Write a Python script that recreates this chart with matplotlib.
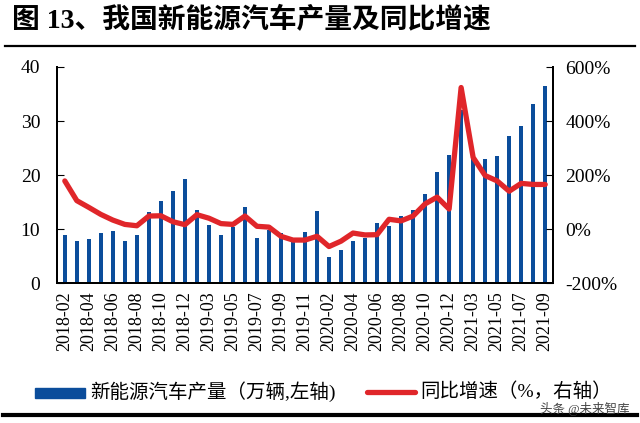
import numpy as np
import matplotlib
matplotlib.use("Agg")
import matplotlib.pyplot as plt
from matplotlib.lines import Line2D
from matplotlib.patches import Rectangle

plt.rcParams['font.family'] = ['Liberation Serif', 'Noto Sans CJK SC']

# months (Jan merged into Feb in 2019 and 2021, Jan missing in 2020)
months = (["2018-%02d" % m for m in range(2, 13)] +
          ["2019-%02d" % m for m in range(2, 13)] +
          ["2020-%02d" % m for m in range(2, 13)] +
          ["2021-%02d" % m for m in range(2, 10)])

# production, 10k vehicles (left axis)
production = [8.8, 7.7, 8.1, 9.3, 9.6, 7.8, 8.9, 13.1, 15.1, 17.1, 19.3,
              13.6, 10.8, 8.8, 10.3, 14.1, 8.3, 9.9, 9.3, 7.7, 9.4, 13.4,
              4.9, 6.2, 7.7, 8.3, 11.2, 10.6, 12.4, 13.5, 16.4, 20.6, 23.7,
              32.0, 24.0, 22.9, 23.6, 27.3, 29.0, 33.1, 36.4]

# year-on-year growth, % (right axis)
growth = [178, 105, 80, 54, 33, 17, 12, 48, 49, 27, 16,
          53, 40, 20, 17, 48, 10, 7, -27, -41, -41, -27,
          -65, -45, -15, -22, -21, 36, 30, 48, 93, 118, 74,
          524, 265, 198, 178, 140, 169, 165, 165]

blue = '#0B4D9B'
red = '#E0262A'

W, H = 640, 423
fx = lambda px: px / W
fy = lambda py: 1 - py / H

fig = plt.figure(figsize=(6.4, 4.23), dpi=100)
ax = fig.add_axes([fx(57), fy(283), (553-57)/W, (283-67)/H])
ax2 = ax.twinx()

x = np.arange(len(months))
ax.bar(x, production, width=0.38, color=blue, zorder=2)
ax2.plot(x, growth, color=red, lw=3.8, solid_capstyle='round',
         solid_joinstyle='round', zorder=3)

ax.set_xlim(-0.65, len(months) - 0.35)
ax.set_ylim(0, 40)
ax.set_yticks([0, 10, 20, 30, 40])
ax2.set_ylim(-200, 600)
ax2.set_yticks([-200, 0, 200, 400, 600])
ax2.set_yticklabels(['%d%%' % v for v in [-200, 0, 200, 400, 600]])

ax.set_xticks(x[::2])
ax.set_xticklabels(months[::2], rotation=90, fontsize=13)
ax.tick_params(axis='x', length=0, pad=6)
ax.tick_params(axis='y', direction='in', length=5, labelsize=14, pad=12)
ax2.tick_params(axis='y', direction='in', length=5, labelsize=14, pad=9)

for a in (ax, ax2):
    a.spines['top'].set_visible(False)
    for s in ('left', 'right', 'bottom'):
        a.spines[s].set_linewidth(1.4)
ax2.set_zorder(ax.get_zorder() + 1)
ax2.patch.set_visible(False)

# title and rules
fig.text(fx(12), fy(21), "图 13、我国新能源汽车产量及同比增速",
         fontsize=20, fontweight='bold', va='center', ha='left')
fig.add_artist(Line2D([fx(5), fx(635)], [fy(46), fy(46)], color='black', lw=1.6))
fig.add_artist(Line2D([fx(3), fx(637)], [fy(415), fy(415)], color='black', lw=3))

# legend drawn by hand to follow the reference spacing
fig.add_artist(Rectangle((fx(35), fy(398)), (85-35)/W, 10/H,
                         transform=fig.transFigure, color=blue))
fig.text(fx(90), fy(392), "新能源汽车产量（万辆,左轴)", fontsize=14,
         va='center', ha='left')
fig.add_artist(Line2D([fx(367), fx(415)], [fy(392), fy(392)], color=red,
                      lw=3.8, solid_capstyle='round'))
fig.text(fx(420), fy(392), "同比增速（%，右轴）", fontsize=14,
         va='center', ha='left')

fig.text(fx(630), fy(409), "头条 @未来智库", fontsize=9, color='#444444',
         ha='right', va='center')

fig.savefig('out.png', dpi=100)
